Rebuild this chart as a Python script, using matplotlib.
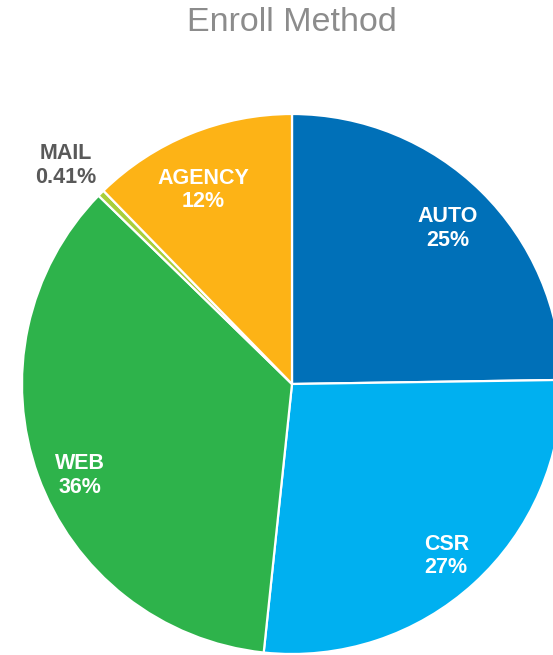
import matplotlib.pyplot as plt
import numpy as np

labels = ["AUTO", "CSR", "WEB", "MAIL", "AGENCY"]
values = [24.75, 26.9, 35.6, 0.41, 12.3]
pct_text = ["25%", "27%", "36%", "0.41%", "12%"]
colors = ["#0070B8", "#00B0F0", "#2EB34B", "#A9CF3A", "#FDB316"]
label_dist = [0.815, 0.855, 0.855, 1.165, 0.79]
label_nudge = [-0.5, -0.5, 3.5, 1.0, 2.4]

plt.rcParams['font.family'] = ['Liberation Sans', 'DejaVu Sans']

fig = plt.figure(figsize=(5.53, 6.55), dpi=100)
ax = fig.add_axes([0, 0, 1, 1])
ax.axis('off')

cx, cy, r = 292, 271, 270
wedges, _ = ax.pie(values, colors=colors, startangle=90, counterclock=False,
                   center=(cx, cy), radius=r, normalize=True,
                   wedgeprops=dict(edgecolor='white', linewidth=1.6))
ax.set_xlim(0, 553)
ax.set_ylim(0, 655)
ax.set_aspect('equal')

for w, lab, p, d, n in zip(wedges, labels, pct_text, label_dist, label_nudge):
    ang = np.deg2rad((w.theta1 + w.theta2) / 2 + n)
    x = cx + d * r * np.cos(ang)
    y = cy + d * r * np.sin(ang)
    col = '#595959' if lab == "MAIL" else 'white'
    ax.text(x, y, lab + "\n" + p, ha='center', va='center', color=col,
            fontsize=15.5, fontweight='bold', linespacing=1.15)

fig.text(292 / 553, 1 - 22.5 / 655, "Enroll Method", ha='center', va='center',
         fontsize=24.5, color='#8C8C8C')

fig.savefig("out.png", dpi=100)
